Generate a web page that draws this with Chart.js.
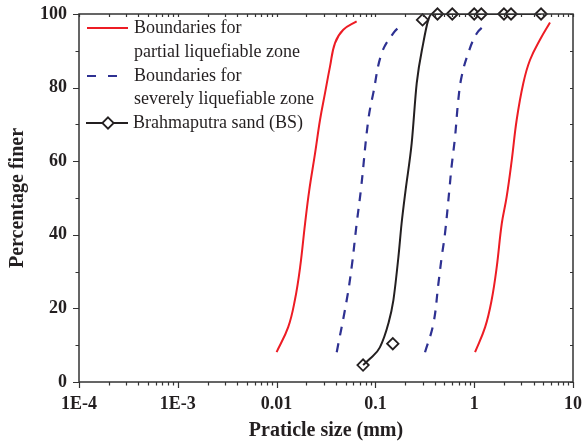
<!DOCTYPE html>
<html>
<head>
<meta charset="utf-8">
<script src="https://cdn.jsdelivr.net/npm/chart.js@4.4.0/dist/chart.umd.min.js"></script>
<style>
  html, body { margin: 0; padding: 0; background: #fff; }
</style>
</head>
<body>
<canvas id="psd" width="582" height="443"></canvas>
<script>
// Values (x in mm, y in % finer)
const redLeftX = [0.0100, 0.0131, 0.0153, 0.0173, 0.0194, 0.0214, 0.0245, 0.0275, 0.0309, 0.0347, 0.0390, 0.0473, 0.0646];
const redLeftY = [8.1, 14.9, 22.2, 31.2, 43.0, 52.1, 62.1, 71.2, 78.5, 85.7, 92.1, 95.7, 98.0];
const redRightX = [1.02, 1.29, 1.50, 1.69, 1.90, 2.13, 2.40, 2.69, 3.14, 3.67, 4.63, 5.85];
const redRightY = [8.1, 14.9, 22.2, 31.2, 43.0, 50.3, 60.3, 71.2, 81.2, 87.5, 93.0, 97.7];

const blueLeftX = [0.0406, 0.0512, 0.0575, 0.0646, 0.0715, 0.0847, 0.0952, 0.116, 0.152, 0.184];
const blueLeftY = [8.1, 22.2, 31.2, 43.0, 52.5, 71.2, 78.5, 89.4, 94.8, 97.1];
const blueRightX = [0.318, 0.386, 0.434, 0.469, 0.506, 0.56, 0.59, 0.64, 0.69, 0.746, 0.871, 1.06, 1.29];
const blueRightY = [8.1, 15.8, 26.7, 34.0, 40.3, 52.1, 58.5, 66.6, 76.6, 83.0, 89.4, 94.7, 97.1];

// fitted curve for Brahmaputra sand
const bsCurveX = [0.075, 0.088, 0.111, 0.135, 0.152, 0.171, 0.184, 0.202, 0.233, 0.262, 0.305, 0.343, 0.374, 0.6, 1, 2, 4.75];
const bsCurveY = [4.6, 6.3, 9.4, 15.8, 22.2, 34.0, 43.0, 52.1, 64.9, 81.2, 92.1, 98.4, 100, 100, 100, 100, 100];

// sieve data points
const bsSieveX = [0.075, 0.15, 0.3, 0.425, 0.6, 1, 1.18, 2, 2.36, 4.75];
const bsSieveY = [4.6, 10.4, 98.4, 100, 100, 100, 100, 100, 100, 100];

const xTickValues = [1e-4, 1e-3, 0.01, 0.1, 1, 10];
const xTickLabels = ["1E-4", "1E-3", "0.01", "0.1", "1", "10"];
const yTickValues = [0, 20, 40, 60, 80, 100];

const RED = "#ed1c24";
const NAVY = "#2e3192";
const INK = "#231f20";
const SERIF = '"Liberation Serif", "Times New Roman", serif';

const toPoints = (xs, ys) => xs.map((x, i) => ({ x: x, y: ys[i] }));

function redLine(xs, ys) {
  return {
    data: toPoints(xs, ys), borderColor: RED, borderWidth: 2,
    pointRadius: 0, tension: 0.4, fill: false,
  };
}
function blueLine(xs, ys) {
  return {
    data: toPoints(xs, ys), borderColor: NAVY, borderWidth: 2.2, borderDash: [9, 8],
    pointRadius: 0, tension: 0.4, fill: false,
  };
}

// fix the axis box size and drop the label overflow padding
function fixSize(prop, size) {
  return (s) => {
    s[prop] = size;
    s.paddingTop = s.paddingBottom = s.paddingLeft = s.paddingRight = 0;
  };
}

// box round the plot plus minor ticks
const frame = {
  id: "frame",
  afterDraw(chart) {
    const { ctx, chartArea: ca } = chart;
    const xs = chart.scales.x, ys = chart.scales.y;
    ctx.save();
    ctx.strokeStyle = "#333";
    ctx.lineWidth = 1.5;
    ctx.strokeRect(ca.left, ca.top, ca.right - ca.left, ca.bottom - ca.top);
    ctx.lineWidth = 1.2;
    ctx.beginPath();
    for (let e = -4; e <= 1; e++) {
      for (let k = 1; k <= 9; k++) {
        const v = k * Math.pow(10, e);
        if (v > 10.0001) break;
        const px = Math.round(xs.getPixelForValue(v)) + 0.5;
        const len = k === 1 ? 6 : 3.5;
        ctx.moveTo(px, ca.bottom); ctx.lineTo(px, ca.bottom + len);
        ctx.moveTo(px, ca.top); ctx.lineTo(px, ca.top + 3);
      }
    }
    for (let v = 0; v <= 100; v += 10) {
      const py = Math.round(ys.getPixelForValue(v)) + 0.5;
      const len = v % 20 === 0 ? 6 : 3.5;
      ctx.moveTo(ca.left - len, py); ctx.lineTo(ca.left, py);
      ctx.moveTo(ca.right - 3, py); ctx.lineTo(ca.right, py);
    }
    ctx.stroke();
    ctx.restore();
  },
};

// legend drawn inside the plot, top left
const legendBox = {
  id: "legendBox",
  afterDraw(chart) {
    const ctx = chart.ctx;
    ctx.save();
    ctx.font = "18px " + SERIF;
    ctx.fillStyle = INK;
    ctx.textBaseline = "middle";
    ctx.lineWidth = 2;

    ctx.strokeStyle = RED;
    ctx.beginPath(); ctx.moveTo(87, 28); ctx.lineTo(128, 28); ctx.stroke();
    ctx.fillText("Boundaries for", 134, 28);
    ctx.fillText("partial liquefiable zone", 134, 52.5);

    ctx.strokeStyle = NAVY;
    ctx.lineWidth = 2.2;
    ctx.setLineDash([9, 12]);
    ctx.beginPath(); ctx.moveTo(87, 76); ctx.lineTo(128, 76); ctx.stroke();
    ctx.setLineDash([]);
    ctx.fillText("Boundaries for", 134, 76);
    ctx.fillText("severely liquefiable zone", 134, 99.5);

    ctx.strokeStyle = INK;
    ctx.lineWidth = 2;
    ctx.beginPath(); ctx.moveTo(86, 123); ctx.lineTo(128, 123); ctx.stroke();
    ctx.fillStyle = "#fff";
    ctx.lineWidth = 1.8;
    ctx.beginPath();
    ctx.moveTo(108, 117.3); ctx.lineTo(113.7, 123); ctx.lineTo(108, 128.7); ctx.lineTo(102.3, 123);
    ctx.closePath(); ctx.fill(); ctx.stroke();
    ctx.fillStyle = INK;
    ctx.fillText("Brahmaputra sand (BS)", 133, 123);
    ctx.restore();
  },
};

new Chart(document.getElementById("psd"), {
  type: "line",
  data: {
    datasets: [
      redLine(redLeftX, redLeftY),
      redLine(redRightX, redRightY),
      blueLine(blueLeftX, blueLeftY),
      blueLine(blueRightX, blueRightY),
      {
        data: toPoints(bsCurveX, bsCurveY), borderColor: INK, borderWidth: 2,
        pointRadius: 0, cubicInterpolationMode: "monotone", fill: false,
      },
      {
        data: toPoints(bsSieveX, bsSieveY), showLine: false, clip: false,
        pointStyle: "rectRot", pointRadius: 5.7, borderColor: INK,
        pointBorderWidth: 1.8, pointBackgroundColor: "#fff",
      },
    ],
  },
  options: {
    responsive: false,
    animation: false,
    layout: { autoPadding: false, padding: { top: 14, right: 9, left: 0, bottom: 0 } },
    plugins: { legend: { display: false }, tooltip: { enabled: false } },
    scales: {
      x: {
        type: "logarithmic", min: 1e-4, max: 10,
        grid: { display: false }, border: { display: false },
        afterBuildTicks: (s) => { s.ticks = xTickValues.map((v) => ({ value: v })); },
        afterFit: fixSize("height", 61),
        ticks: {
          autoSkip: false, maxRotation: 0, padding: 4, color: INK,
          font: { family: SERIF, size: 18, weight: "bold" },
          callback: (v, i) => xTickLabels[i],
        },
        title: {
          display: true, text: "Praticle size (mm)", color: INK,
          font: { family: SERIF, size: 20, weight: "bold" },
          padding: { top: 0, bottom: 0 },
        },
      },
      y: {
        type: "linear", min: 0, max: 100,
        grid: { display: false }, border: { display: false },
        afterBuildTicks: (s) => { s.ticks = yTickValues.map((v) => ({ value: v })); },
        afterFit: fixSize("width", 79),
        ticks: {
          padding: 4, color: INK,
          font: { family: SERIF, size: 18, weight: "bold" },
        },
        title: {
          display: true, text: "Percentage finer", color: INK,
          font: { family: SERIF, size: 20, weight: "bold" },
          padding: { top: 6, bottom: 0 },
        },
      },
    },
  },
  plugins: [frame, legendBox],
});
</script>
</body>
</html>
